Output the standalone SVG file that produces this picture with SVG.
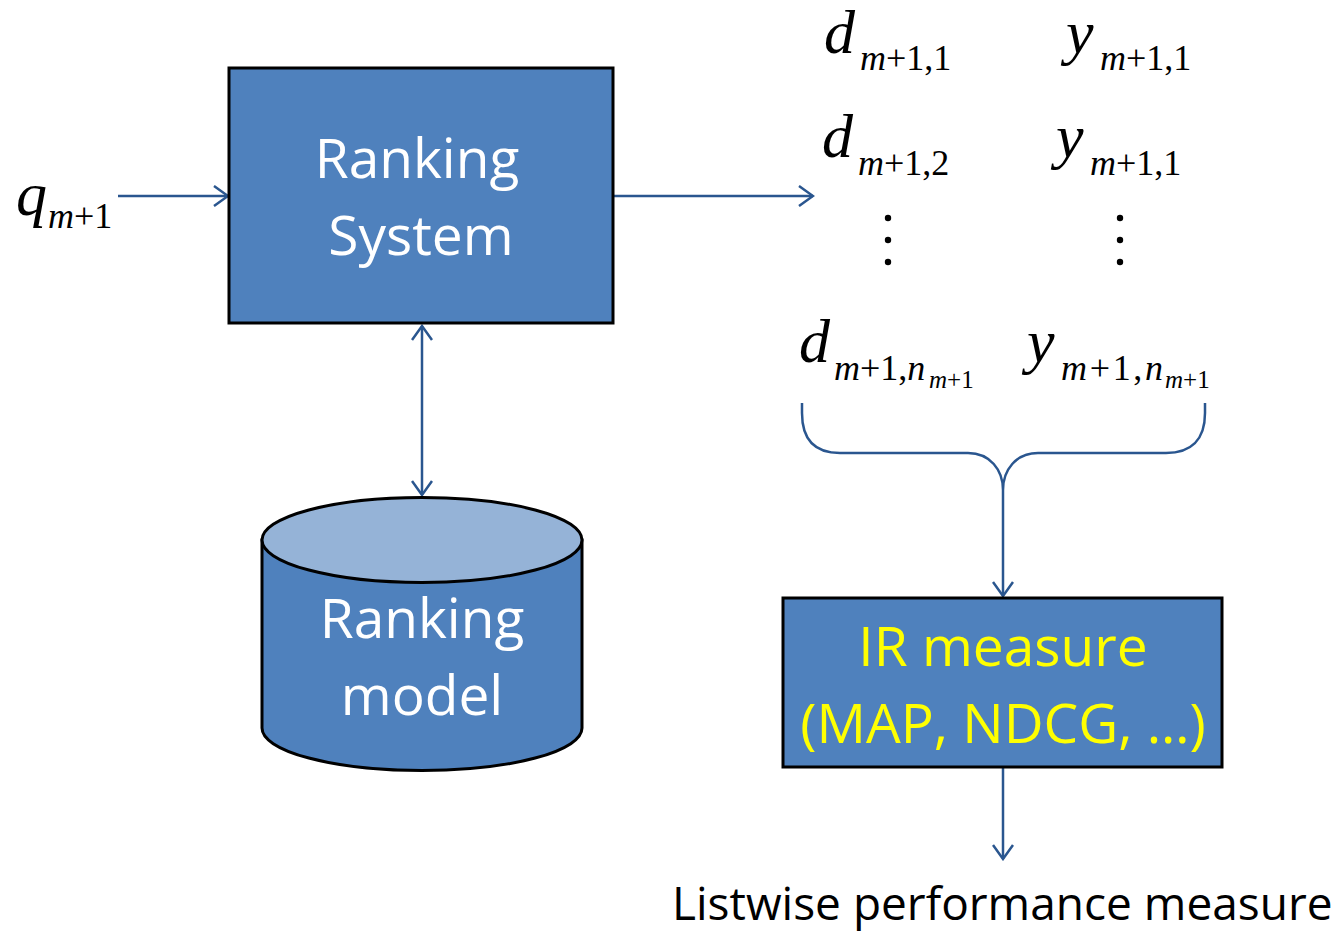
<svg xmlns="http://www.w3.org/2000/svg" width="1338" height="934" viewBox="0 0 1338 934">
  <style>
    .box { fill: #4F81BD; stroke: #000; stroke-width: 3; }
    .lbl { font-family: "Open Sans", "Liberation Sans", sans-serif; font-size: 55px; text-anchor: middle; fill: #FFFFFF; }
    .yel { fill: #FFFF00; }
    .conn { fill: none; stroke: #2A568F; stroke-width: 2.5; }
    .math { font-family: "Liberation Serif", "Times New Roman", serif; fill: #000; }
    .it { font-style: italic; }
    .big { font-size: 62px; }
    .sub { font-size: 36px; }
    .ssub { font-size: 25px; }
  </style>
  <defs>
    <marker id="head" viewBox="-16 -11 18 22" markerWidth="18" markerHeight="22" refX="0" refY="0" orient="auto-start-reverse" markerUnits="userSpaceOnUse">
      <path d="M -14 -10 L 0 0 L -14 10" fill="none" stroke="#2A568F" stroke-width="2.5"/>
    </marker>
  </defs>
  <rect width="1338" height="934" fill="#FFFFFF"/>

  <!-- connectors -->
  <g id="connectors">
    <line class="conn" x1="118" y1="196" x2="228" y2="196" marker-end="url(#head)"/>
    <line class="conn" x1="614" y1="196" x2="813" y2="196" marker-end="url(#head)"/>
    <line class="conn" x1="422" y1="326" x2="422" y2="495" marker-start="url(#head)" marker-end="url(#head)"/>
    <path class="conn" d="M 802 403 L 802 413 C 802 440 815 453 840 453 L 968 453 C 990 453 1003 470 1003 490 C 1003 470 1016 453 1038 453 L 1166 453 C 1191 453 1205 440 1205 413 L 1205 403"/>
    <line class="conn" x1="1003" y1="490" x2="1003" y2="596" marker-end="url(#head)"/>
    <line class="conn" x1="1003" y1="768" x2="1003" y2="859" marker-end="url(#head)"/>
  </g>

  <!-- query input -->
  <g id="query">
    <text class="math it big" x="16" y="215">q</text>
    <text class="math sub" x="48" y="228"><tspan class="it">m</tspan>+1</text>
  </g>

  <!-- ranking system -->
  <g id="ranking-system">
    <rect class="box" x="229" y="68" width="384" height="255"/>
    <text class="lbl" x="417" y="178">Ranking</text>
    <text class="lbl" x="421" y="255">System</text>
  </g>

  <!-- ranking model store -->
  <g id="ranking-model">
    <path d="M 262 540 L 262 728 A 160 42.5 0 0 0 582 728 L 582 540 Z" fill="#4F81BD" stroke="#000" stroke-width="3"/>
    <ellipse cx="422" cy="540" rx="160" ry="42.5" fill="#95B3D7" stroke="#000" stroke-width="3"/>
    <text class="lbl" x="422" y="638">Ranking</text>
    <text class="lbl" x="422" y="715">model</text>
  </g>

  <!-- ranked documents and labels -->
  <g id="ranked-list">
    <text class="math it big" x="824" y="53">d</text>
    <text class="math sub" x="860" y="70"><tspan class="it">m</tspan>+1,1</text>
    <text class="math it big" x="1066" y="53">y</text>
    <text class="math sub" x="1100" y="70"><tspan class="it">m</tspan>+1,1</text>

    <text class="math it big" x="822" y="157">d</text>
    <text class="math sub" x="858" y="175"><tspan class="it">m</tspan>+1,2</text>
    <text class="math it big" x="1056" y="157">y</text>
    <text class="math sub" x="1090" y="175"><tspan class="it">m</tspan>+1,1</text>

    <circle cx="888" cy="218" r="3.2"/>
    <circle cx="888" cy="240" r="3.2"/>
    <circle cx="888" cy="262" r="3.2"/>
    <circle cx="1120" cy="218" r="3.2"/>
    <circle cx="1120" cy="240" r="3.2"/>
    <circle cx="1120" cy="262" r="3.2"/>

    <text class="math it big" x="799" y="362">d</text>
    <text class="math sub" x="834" y="380"><tspan class="it">m</tspan>+1,<tspan class="it">n</tspan></text>
    <text class="math ssub" x="929" y="388"><tspan class="it">m</tspan>+1</text>
    <text class="math it big" x="1027" y="362">y</text>
    <text class="math sub" x="1061" y="380" textLength="102" lengthAdjust="spacing"><tspan class="it">m</tspan>+1,<tspan class="it">n</tspan></text>
    <text class="math ssub" x="1165" y="388"><tspan class="it">m</tspan>+1</text>
  </g>

  <!-- evaluation measure -->
  <g id="ir-measure">
    <rect class="box" x="783" y="598" width="439" height="169"/>
    <text class="lbl yel" x="1003" y="666">IR measure</text>
    <text class="lbl yel" x="1003" y="743">(MAP, NDCG, …)</text>
  </g>

  <g id="output">
    <text x="672" y="920" font-family="'Open Sans', 'Liberation Sans', sans-serif" font-size="46" fill="#000">Listwise performance measure</text>
  </g>
</svg>
